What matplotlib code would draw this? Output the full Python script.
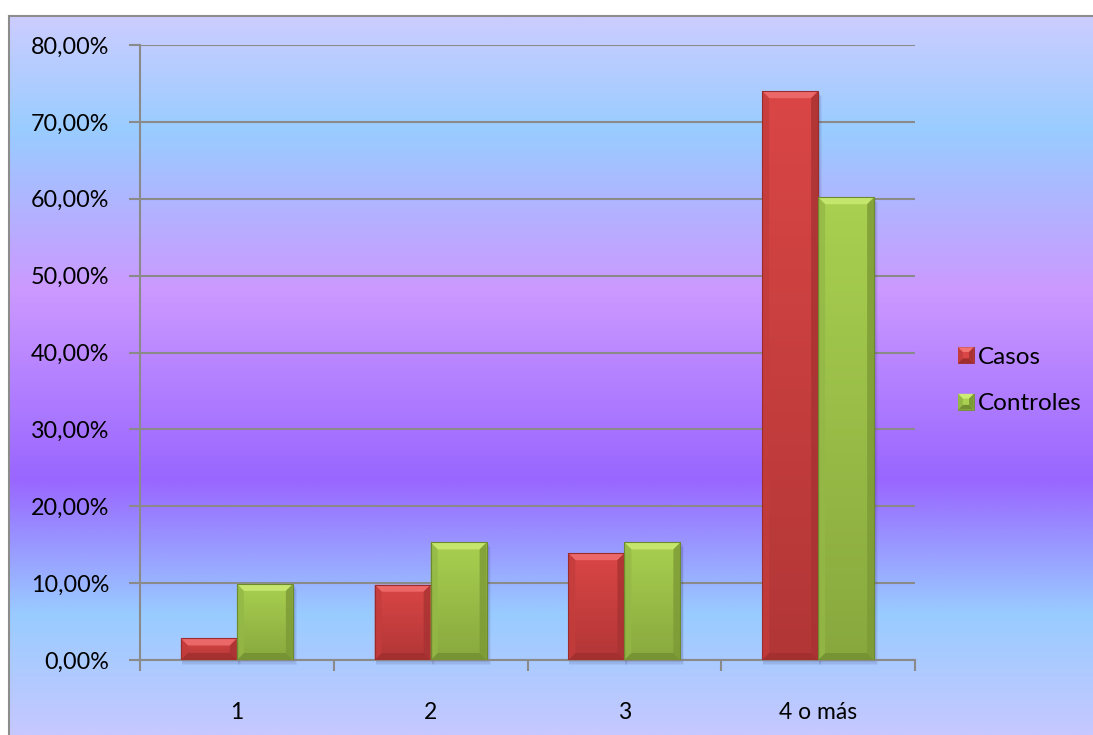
import numpy as np
import matplotlib
matplotlib.use("Agg")
import matplotlib.pyplot as plt
from matplotlib.colors import LinearSegmentedColormap
from matplotlib.patches import Polygon, Rectangle
from matplotlib.legend_handler import HandlerPatch
from matplotlib.ticker import FuncFormatter, MultipleLocator

# ---- data ----
categories = ["1", "2", "3", "4 o más"]
series_names = ["Casos", "Controles"]
casos = [0.028, 0.098, 0.139, 0.740]
controles = [0.099, 0.153, 0.153, 0.602]
y_ticks = [0.0, 0.1, 0.2, 0.3, 0.4, 0.5, 0.6, 0.7, 0.8]

plt.rcParams["font.family"] = ["Lato", "DejaVu Sans"]

W, H = 1093, 735
fig = plt.figure(figsize=(W / 100, H / 100), dpi=100)
fig.patch.set_facecolor("white")

# ---- chart area with vertical gradient ----
bg_left, bg_top = 9, 16
bg_ax = fig.add_axes([bg_left / W, 0, 1 - bg_left / W, (H - bg_top) / H], zorder=0)
stops = [(0.0, "#cccdff"), (0.159, "#99ccff"), (0.381, "#cc99ff"),
         (0.645, "#9966ff"), (0.833, "#99ccff"), (1.0, "#c6c8ff")]
cmap = LinearSegmentedColormap.from_list("bg", stops)
grad = np.linspace(0, 1, 512).reshape(-1, 1)
bg_ax.imshow(grad, aspect="auto", cmap=cmap, extent=[0, 1, 1, 0], interpolation="bilinear")
bg_ax.set_xlim(0, 1)
bg_ax.set_ylim(1, 0)
bg_ax.axis("off")
# chart border (top and left edges visible)
fig.add_artist(plt.Line2D([bg_left / W, bg_left / W], [0, (H - bg_top) / H],
                          color="#8c8c8c", lw=1.5, transform=fig.transFigure))
fig.add_artist(plt.Line2D([bg_left / W, 1], [(H - bg_top) / H, (H - bg_top) / H],
                          color="#8c8c8c", lw=1.5, transform=fig.transFigure))

# ---- plot area ----
px_l, px_r, px_t, px_b = 140, 915, 45, 660
ax = fig.add_axes([px_l / W, (H - px_b) / H, (px_r - px_l) / W, (px_b - px_t) / H], zorder=1)
ax.patch.set_alpha(0)
ax.set_xlim(-0.5, len(categories) - 0.5)
ax.set_ylim(0, 0.8)

grid_c = "#8a8a8a"
ax.set_yticks(y_ticks)
ax.yaxis.set_major_formatter(FuncFormatter(lambda v, p: f"{v * 100:.2f}%".replace(".", ",")))
ax.grid(axis="y", color=grid_c, lw=1.5, zorder=0)
ax.set_axisbelow(True)
ax.set_xticks(np.arange(len(categories)))
ax.set_xticklabels(categories)
ax.xaxis.set_minor_locator(MultipleLocator(1, offset=0.5))
ax.tick_params(axis="x", which="major", length=0, pad=30, labelsize=16.5)
ax.tick_params(axis="x", which="minor", length=8, width=1.5, color=grid_c, direction="out")
ax.tick_params(axis="y", length=8, width=1.5, color=grid_c, pad=14, labelsize=16.8)
for s in ["top", "right"]:
    ax.spines[s].set_visible(False)
for s in ["left", "bottom"]:
    ax.spines[s].set_color(grid_c)
    ax.spines[s].set_linewidth(1.5)

# ---- beveled bars ----
bar_w = 0.289
x = np.arange(len(categories))
palettes = {
    "Casos": dict(top_face="#da4646", bot_face="#b23636", bevel_top="#f27272",
                  bevel_bot="#a02e2e", bevel_l="#c43c3c", bevel_r="#a83232", edge="#9a2c2c"),
    "Controles": dict(top_face="#a9d050", bot_face="#88a83e", bevel_top="#cdec74",
                      bevel_bot="#738f32", bevel_l="#94b846", bevel_r="#7c9a36", edge="#6d8a2e"),
}

ax_w_px = px_r - px_l
ax_h_px = px_b - px_t
dx_per_px = (len(categories)) / ax_w_px
dy_per_px = 0.8 / ax_h_px
bev = 7  # bevel size in pixels


def draw_bevel(rect, pal):
    x0, w, h = rect.get_x(), rect.get_width(), rect.get_height()
    x1 = x0 + w
    bx = bev * dx_per_px
    by = min(bev * dy_per_px, h / 2)
    # soft shadow
    for k, a in [(5, 0.06), (3.5, 0.08), (2, 0.10)]:
        ax.add_patch(Rectangle((x0 + 1 * dx_per_px, -k * dy_per_px), w + k * 0.6 * dx_per_px,
                               h, facecolor="#303060", alpha=a, lw=0, zorder=2, clip_on=False))
    # face gradient
    fc = LinearSegmentedColormap.from_list("f", [pal["bot_face"], pal["top_face"]])
    im = ax.imshow(np.linspace(0, 1, 128).reshape(-1, 1), cmap=fc, origin="lower",
                   extent=[x0, x1, 0, h], aspect="auto", zorder=3, interpolation="bilinear")
    im.set_clip_path(rect)
    polys = [
        ([(x0, h), (x1, h), (x1 - bx, h - by), (x0 + bx, h - by)], pal["bevel_top"]),
        ([(x0, 0), (x1, 0), (x1 - bx, by), (x0 + bx, by)], pal["bevel_bot"]),
        ([(x0, 0), (x0 + bx, by), (x0 + bx, h - by), (x0, h)], pal["bevel_l"]),
        ([(x1, 0), (x1 - bx, by), (x1 - bx, h - by), (x1, h)], pal["bevel_r"]),
    ]
    for pts, c in polys:
        ax.add_patch(Polygon(pts, closed=True, facecolor=c, edgecolor="none", alpha=0.8, zorder=4))
    ax.add_patch(Rectangle((x0, 0), w, h, facecolor="none", edgecolor=pal["edge"], lw=0.8, zorder=5))


handles = []
for i, (name, vals) in enumerate(zip(series_names, [casos, controles])):
    offs = (i - 0.5) * bar_w
    bars = ax.bar(x + offs, vals, width=bar_w, color="none", edgecolor="none", zorder=3, label=name)
    for r in bars:
        draw_bevel(r, palettes[name])
    h = Rectangle((0, 0), 1, 1, facecolor=palettes[name]["top_face"], label=name)
    h._pal = palettes[name]
    handles.append(h)


class BevelHandler(HandlerPatch):
    def create_artists(self, legend, orig_handle, xdescent, ydescent, width, height, fontsize, trans):
        pal = orig_handle._pal
        s = min(width, height)
        x0, y0 = -xdescent + (width - s) / 2, -ydescent + (height - s) / 2
        x1, y1 = x0 + s, y0 + s
        b = s * 0.3
        arts = [Rectangle((x0, y0), s, s, facecolor=pal["top_face"], edgecolor=pal["edge"], lw=0.6)]
        for pts, c in [
            ([(x0, y1), (x1, y1), (x1 - b, y1 - b), (x0 + b, y1 - b)], pal["bevel_top"]),
            ([(x0, y0), (x1, y0), (x1 - b, y0 + b), (x0 + b, y0 + b)], pal["bevel_bot"]),
            ([(x0, y0), (x0 + b, y0 + b), (x0 + b, y1 - b), (x0, y1)], pal["bevel_l"]),
            ([(x1, y0), (x1 - b, y0 + b), (x1 - b, y1 - b), (x1, y1)], pal["bevel_r"]),
        ]:
            arts.append(Polygon(pts, closed=True, facecolor=c, edgecolor="none"))
        for a in arts:
            a.set_transform(trans)
        return arts


leg = fig.legend(handles=handles, handler_map={Rectangle: BevelHandler()},
                 loc="center left", bbox_to_anchor=(958 / W, (H - 380.5) / H),
                 frameon=False, fontsize=17.5, handlelength=0.65, handleheight=0.65,
                 handletextpad=0.18, labelspacing=1.05, borderpad=0, borderaxespad=0)

fig.savefig("out.png", dpi=100)
